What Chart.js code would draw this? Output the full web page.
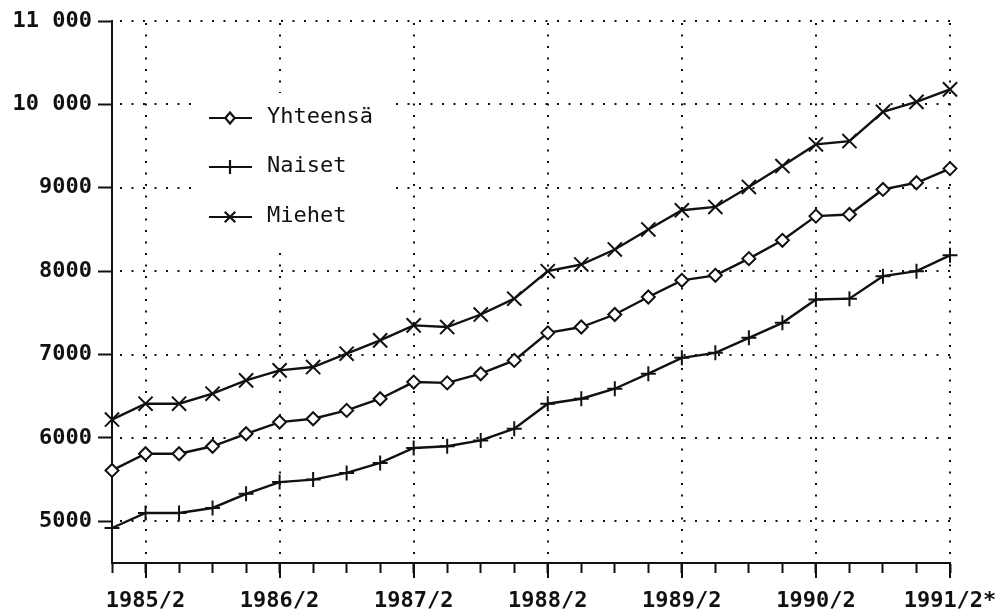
<!DOCTYPE html>
<html>
<head>
<meta charset="utf-8">
<script src="https://cdn.jsdelivr.net/npm/chart.js@4.4.1/dist/chart.umd.min.js"></script>
<style>
  html, body { margin: 0; padding: 0; background: #fff; }
  canvas { display: block; }
</style>
</head>
<body>
<canvas id="c" width="1002" height="613"></canvas>
<script>
const MONO = "'DejaVu Sans Mono', 'Liberation Mono', monospace";
const INK = "#111";

// quarters 1985/1 .. 1991/2
const quarters = [
  "1985/1", "1985/2", "1985/3", "1985/4",
  "1986/1", "1986/2", "1986/3", "1986/4",
  "1987/1", "1987/2", "1987/3", "1987/4",
  "1988/1", "1988/2", "1988/3", "1988/4",
  "1989/1", "1989/2", "1989/3", "1989/4",
  "1990/1", "1990/2", "1990/3", "1990/4",
  "1991/1", "1991/2",
];
const majorQuarters = ["1985/2", "1986/2", "1987/2", "1988/2", "1989/2", "1990/2", "1991/2"];
const majorText = ["1985/2", "1986/2", "1987/2", "1988/2", "1989/2", "1990/2", "1991/2*"];

const yTicks = [5000, 6000, 7000, 8000, 9000, 10000, 11000];
const yTickLabels = ["5000", "6000", "7000", "8000", "9000", "10 000", "11 000"];

const yhteensa = [5610, 5810, 5810, 5900, 6050, 6190, 6230, 6330, 6470, 6670, 6660, 6770, 6930,
  7260, 7330, 7480, 7690, 7890, 7950, 8150, 8370, 8660, 8680, 8980, 9060, 9230];
const naiset = [4920, 5100, 5100, 5160, 5330, 5470, 5500, 5580, 5700, 5880, 5900, 5970, 6110,
  6410, 6470, 6590, 6770, 6960, 7020, 7200, 7380, 7660, 7670, 7940, 8000, 8190];
const miehet = [6220, 6410, 6410, 6530, 6690, 6810, 6850, 7010, 7170, 7350, 7330, 7480, 7670,
  8000, 8080, 8260, 8500, 8730, 8770, 9010, 9260, 9520, 9560, 9910, 10030, 10180];

function series(label, data, style, radius) {
  return {
    label, data,
    borderColor: INK, borderWidth: 2.4, tension: 0, fill: false,
    pointStyle: style, pointRadius: radius,
    pointBorderColor: INK, pointBackgroundColor: "#fff", pointBorderWidth: 2,
  };
}

function marker(ctx, style, x, y, r) {
  ctx.beginPath();
  if (style === "rectRot") {
    ctx.moveTo(x, y - r); ctx.lineTo(x + r * 0.85, y); ctx.lineTo(x, y + r); ctx.lineTo(x - r * 0.85, y); ctx.closePath();
    ctx.fillStyle = "#fff"; ctx.fill();
  } else if (style === "cross") {
    ctx.moveTo(x, y - r); ctx.lineTo(x, y + r);
  } else {
    const d = r * 0.75;
    ctx.moveTo(x - d, y - d); ctx.lineTo(x + d, y + d);
    ctx.moveTo(x + d, y - d); ctx.lineTo(x - d, y + d);
  }
  ctx.stroke();
}

// dotted grid, long ticks at labelled quarters, boxed legend
const paper = {
  id: "paper",
  beforeDatasetsDraw(chart) {
    const { ctx, chartArea: a, scales: { x, y } } = chart;
    ctx.save();
    ctx.strokeStyle = INK;
    ctx.lineWidth = 2;
    ctx.setLineDash([2, 9.5]);
    for (const v of yTicks) {
      const py = Math.round(y.getPixelForValue(v));
      ctx.beginPath(); ctx.moveTo(a.left + 8, py); ctx.lineTo(a.right, py); ctx.stroke();
    }
    for (const q of majorQuarters) {
      const px = Math.round(x.getPixelForValue(quarters.indexOf(q)));
      ctx.beginPath(); ctx.moveTo(px, a.bottom - 9); ctx.lineTo(px, a.top); ctx.stroke();
    }
    ctx.setLineDash([]);
    for (const q of majorQuarters) {
      const px = Math.round(x.getPixelForValue(quarters.indexOf(q)));
      ctx.beginPath(); ctx.moveTo(px, a.bottom); ctx.lineTo(px, a.bottom + 15); ctx.stroke();
    }

    // legend
    const lx = a.left + 83, ly = a.top + 72;
    ctx.fillStyle = "#fff";
    ctx.fillRect(lx, ly, 195, 152);
    const rows = [118, 167, 217];
    ctx.font = "22px " + MONO;
    ctx.textBaseline = "middle";
    chart.data.datasets.forEach((d, i) => {
      const ry = rows[i];
      ctx.strokeStyle = INK; ctx.lineWidth = 2.2;
      ctx.beginPath(); ctx.moveTo(209, ry); ctx.lineTo(252, ry); ctx.stroke();
      marker(ctx, d.pointStyle, 230, ry, d.pointStyle === "rectRot" ? 5.5 : 7);
      ctx.fillStyle = INK;
      ctx.fillText(d.label, 267, ry - 1);
    });
    ctx.restore();
  },
};

new Chart(document.getElementById("c"), {
  type: "line",
  data: {
    labels: quarters,
    datasets: [
      series("Yhteensä", yhteensa, "rectRot", 6.5),
      series("Naiset", naiset, "cross", 7.5),
      series("Miehet", miehet, "crossRot", 10),
    ],
  },
  options: {
    responsive: false,
    animation: false,
    devicePixelRatio: 1,
    layout: { padding: { top: 21, right: 52, left: 0, bottom: 0 } },
    plugins: { legend: { display: false }, tooltip: { enabled: false } },
    scales: {
      x: {
        type: "category",
        offset: false,
        grid: { drawOnChartArea: false, tickLength: 10, tickWidth: 2, tickColor: INK },
        border: { color: INK, width: 2 },
        ticks: {
          autoSkip: false, maxRotation: 0, color: INK, padding: 15,
          font: { family: MONO, size: 22, weight: "bold" },
          callback: (v, i) => {
            const k = majorQuarters.indexOf(quarters[i]);
            return k < 0 ? "" : majorText[k];
          },
        },
        afterFit: (s) => { s.height = 50; s.paddingLeft = 0; s.paddingRight = 0; },
      },
      y: {
        min: 4500, max: 11000,
        afterBuildTicks: (s) => { s.ticks = yTicks.map((v) => ({ value: v })); },
        grid: { drawOnChartArea: false, tickLength: 14, tickWidth: 2, tickColor: INK },
        border: { color: INK, width: 2 },
        ticks: {
          color: INK, padding: 6,
          font: { family: MONO, size: 22, weight: "bold" },
          callback: (v) => yTickLabels[yTicks.indexOf(v)],
        },
        afterFit: (s) => { s.width = 112; s.paddingTop = 0; s.paddingBottom = 0; },
      },
    },
  },
  plugins: [paper],
});
</script>
</body>
</html>
